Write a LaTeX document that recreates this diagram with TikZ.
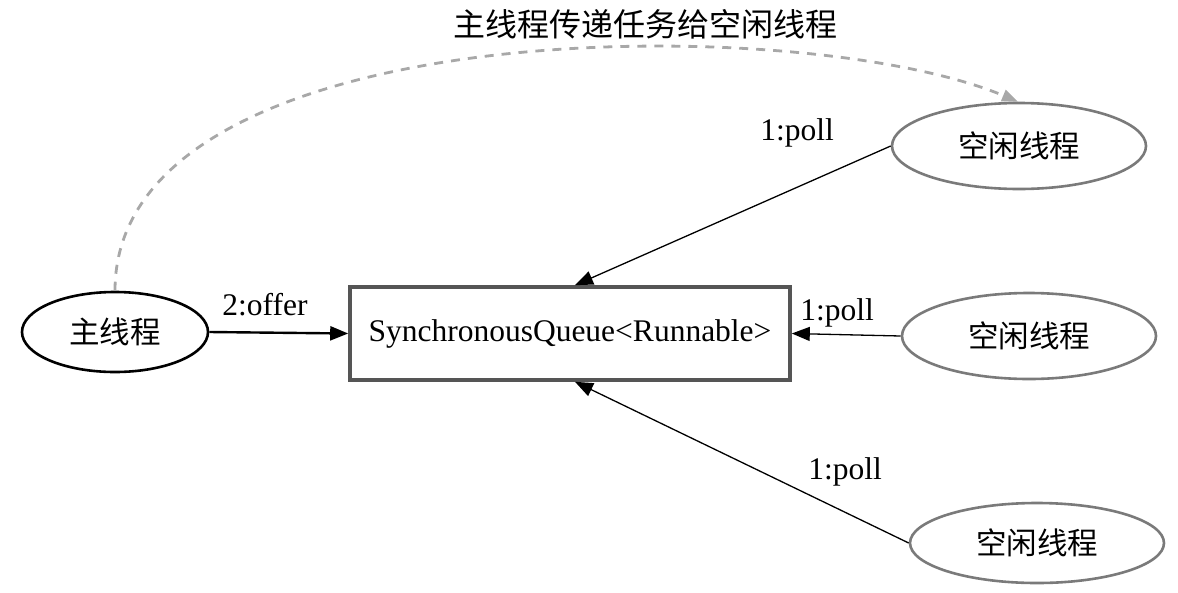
\documentclass[tikz,border=0pt]{standalone}
\usepackage{fontspec}
\setmainfont{Liberation Serif}
\newfontfamily\cjk{Noto Sans CJK SC}
\usetikzlibrary{shapes.geometric,arrows.meta}
\definecolor{boxgray}{HTML}{555555}
\definecolor{idlegray}{HTML}{7A7A7A}
\definecolor{dashgray}{HTML}{A8A8A8}
\tikzset{
  txt/.style={font=\fontsize{31.5}{36}\selectfont},
  ctxt/.style={font=\fontsize{30.5}{36}\selectfont\cjk},
  mainell/.style={ellipse, draw=black, line width=2.6pt, minimum width=186pt, minimum height=80pt, inner sep=0pt, ctxt},
  idleell/.style={ellipse, draw=idlegray, line width=2.6pt, minimum width=254pt, minimum height=86pt, inner sep=0pt, ctxt},
  qbox/.style={draw=boxgray, line width=3.6pt, minimum width=440pt, minimum height=93pt, inner sep=0pt, txt},
  tip/.style={-{Triangle[length=18pt,width=14pt]}},
  offerline/.style={tip, line width=2.4pt, black},
  pollline/.style={tip, line width=1.3pt, black},
  dashline/.style={-{Triangle[length=16pt,width=12pt]}, dashgray, line width=2.8pt, dash pattern=on 9pt off 8pt},
  lbl/.style={txt, inner sep=0pt}
}
\begin{document}
\begin{tikzpicture}[x=1pt,y=-1pt]
\useasboundingbox (0,0) rectangle (1178,592);
\node[mainell] (m) at (115,332) {主线程};
\node[qbox] (q) at (570,333.5) {SynchronousQueue<Runnable>};
\node[idleell] (i1) at (1019,146) {空闲线程};
\node[idleell] (i2) at (1029,336) {空闲线程};
\node[idleell, minimum height=80pt] (i3) at (1037,543) {空闲线程};
\node[font=\fontsize{32}{36}\selectfont\cjk, inner sep=0pt] (title) at (645,24) {主线程传递任务给空闲线程};
\coordinate (qtop) at ([xshift=5pt]q.north);
\coordinate (qbot) at ([xshift=5pt]q.south);
\coordinate (dend) at ([xshift=-1pt]i1.north);
\draw[offerline] (m.east) -- (q.west);
\draw[pollline] (i1.west) -- (qtop);
\draw[pollline] (i2.west) -- (q.east);
\draw[pollline] (i3.west) -- (qbot);
\draw[dashline] (m.north) .. controls (115,12) and (800,10) .. (dend);
\node[lbl] (l0) at (265,305) {2:offer};
\node[lbl] (l1) at (797,133) {1:poll};
\node[lbl] (l2) at (837,313) {1:poll};
\node[lbl] (l3) at (845,472) {1:poll};
\end{tikzpicture}
\end{document}
